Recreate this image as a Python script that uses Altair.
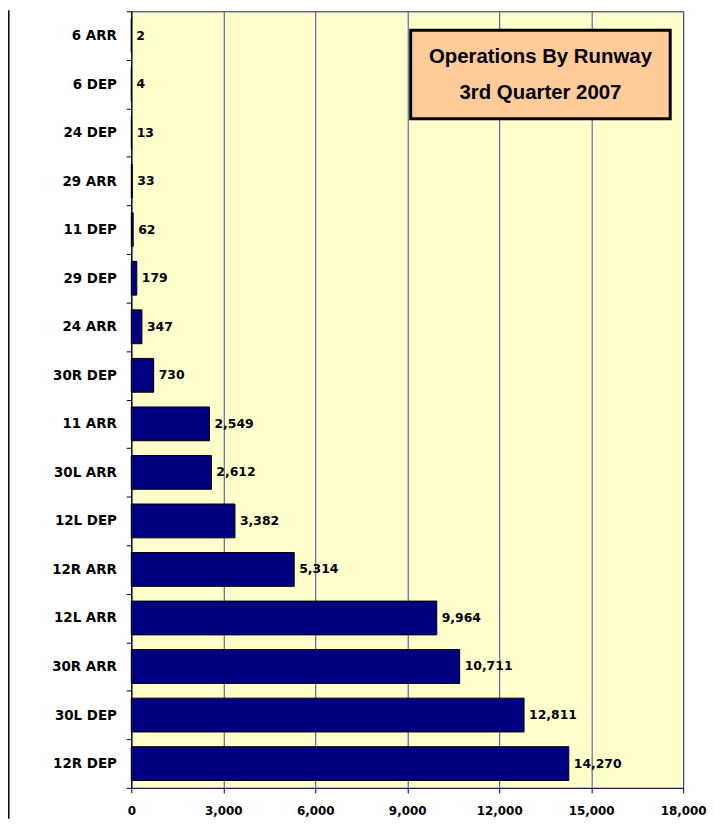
import altair as alt
import pandas as pd

runways = ["6 ARR", "6 DEP", "24 DEP", "29 ARR", "11 DEP", "29 DEP", "24 ARR", "30R DEP",
           "11 ARR", "30L ARR", "12L DEP", "12R ARR", "12L ARR", "30R ARR", "30L DEP", "12R DEP"]
operations = [2, 4, 13, 33, 62, 179, 347, 730, 2549, 2612, 3382, 5314, 9964, 10711, 12811, 14270]
x_ticks = [0, 3000, 6000, 9000, 12000, 15000, 18000]
title_lines = ["Operations By Runway", "3rd Quarter 2007"]

df = pd.DataFrame({"runway": runways, "ops": operations})
one = pd.DataFrame({"k": [0]})

FONT = "DejaVu Sans"

x_scale = alt.Scale(domain=[0, 18000], nice=False)
y_scale = alt.Scale(paddingInner=0, paddingOuter=0)

x_enc = alt.X("ops:Q", scale=x_scale,
              axis=alt.Axis(values=x_ticks, format=",.0f", title=None, grid=True,
                            gridColor="#4646A0", gridWidth=1, tickColor="black", tickSize=5,
                            domainColor="#1A1A70", labelFont=FONT, labelFontSize=12,
                            labelFontWeight="bold", labelColor="black", labelPadding=13,
                            labelFlush=False, labelOverlap=False))
y_enc = alt.Y("runway:N", sort=runways, scale=y_scale,
              axis=alt.Axis(title=None, tickBand="extent", tickColor="black", tickSize=5,
                            domainColor="black", labelFont=FONT, labelFontSize=13.5,
                            labelFontWeight="bold", labelColor="black", labelPadding=10,
                            grid=False))

bars = alt.Chart(df).mark_bar(color="#000080", stroke="black", strokeWidth=1, size=34).encode(
    x=x_enc, y=y_enc)

labels = alt.Chart(df).mark_text(align="left", baseline="middle", dx=5, font=FONT,
                                 fontSize=12.5, fontWeight="bold", color="black").encode(
    x=x_enc, y=y_enc, text=alt.Text("ops:Q", format=",.0f"))

box = alt.Chart(one).mark_rect(fill="#FFCC99", stroke="black", strokeWidth=3).encode(
    x=alt.value(281), x2=alt.value(542), y=alt.value(19), y2=alt.value(108))

t1 = alt.Chart(one).mark_text(text=title_lines[0], font="Liberation Sans", fontSize=20.5,
                              fontWeight="bold", color="black", align="center",
                              baseline="middle").encode(x=alt.value(411.5), y=alt.value(46))
t2 = alt.Chart(one).mark_text(text=title_lines[1], font="Liberation Sans", fontSize=20.5,
                              fontWeight="bold", color="black", align="center",
                              baseline="middle").encode(x=alt.value(411.5), y=alt.value(82))

left_border = alt.Chart(one).mark_rule(color="black", strokeWidth=1.5).encode(
    x=alt.value(-123.2), y=alt.value(-1), y2=alt.value(812))

chart = alt.layer(bars, labels, box, t1, t2, left_border).properties(
    width=555, height=781,
    padding={"left": 124, "top": 1, "right": 24, "bottom": 29},
    autosize=alt.AutoSizeParams(type="none"),
    background="white",
).configure_view(fill="#FFFFCC", stroke="#1A1A70", strokeWidth=1)

chart.save("out.html", embed_options={"renderer": "svg", "actions": False})
